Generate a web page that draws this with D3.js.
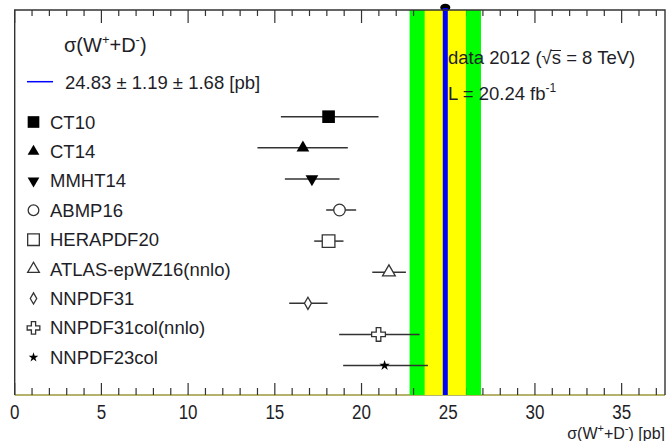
<!DOCTYPE html>
<html>
<head>
<meta charset="utf-8">
<script src="https://cdn.jsdelivr.net/npm/d3@7"></script>
<style>
  html, body { margin: 0; padding: 0; background: #fff; }
  svg { display: block; font-family: "Liberation Sans", Arial, Helvetica, sans-serif; }
</style>
</head>
<body>
<svg id="chart" width="668" height="441"></svg>
<script>
// PDF predictions for sigma(W+ + D-) compared with the measurement
const pdfNames = ["CT10", "CT14", "MMHT14", "ABMP16", "HERAPDF20",
                  "ATLAS-epWZ16(nnlo)", "NNPDF31", "NNPDF31col(nnlo)", "NNPDF23col"];
const pdfValues = [18.1, 16.62, 17.14, 18.73, 18.1, 21.58, 16.91, 20.98, 21.33];
const pdfErrLow = [2.75, 2.62, 1.56, 0.77, 0.83, 0.96, 1.08, 2.27, 2.39];
const pdfErrHigh = [2.88, 2.59, 1.59, 0.96, 0.86, 0.98, 1.13, 2.37, 2.5];
const pdfMarkers = ["squareFilled", "triangleUp", "triangleDown", "circleOpen", "squareOpen",
                    "triangleOpen", "diamondOpen", "crossOpen", "star"];

// measured value with statistical and systematic uncertainty
const measValue = 24.83;
const measStat = 1.19;
const measSyst = 1.68;
const measTotal = Math.sqrt(measStat * measStat + measSyst * measSyst);

const xTicksMajor = [0, 5, 10, 15, 20, 25, 30, 35];
const xTicksMinor = d3.range(0, 38, 1);
const xDomain = [0, 37.5];

const svg = d3.select("#chart");
const frame = { left: 14.7, right: 665, top: 10, bottom: 395 };

const x = d3.scaleLinear().domain(xDomain).range([frame.left, frame.right]);
const y = d3.scaleLinear().domain([0, pdfNames.length - 1]).range([116.7, 365.5]);
const yLeg = d3.scaleLinear().domain([0, pdfNames.length - 1]).range([122, 357.3]);

const ink = "#1e1e28";
const lineInk = "#333";

// bottom axis baseline (bands sit on top of it)
svg.append("line")
  .attr("x1", frame.left).attr("x2", frame.right)
  .attr("y1", frame.bottom).attr("y2", frame.bottom)
  .attr("stroke", "#9c9a3a").attr("stroke-width", 1.6);

// total uncertainty band
svg.append("rect")
  .attr("x", x(measValue - measTotal)).attr("y", frame.top)
  .attr("width", x(measValue + measTotal) - x(measValue - measTotal))
  .attr("height", frame.bottom - frame.top)
  .attr("fill", "#00ff00");

// tick marks on bottom and top
const ticks = svg.append("g").attr("stroke", lineInk).attr("stroke-width", 1.2);
xTicksMinor.forEach(v => {
  const major = v % 5 === 0;
  ticks.append("line").attr("x1", x(v)).attr("x2", x(v))
    .attr("y1", frame.bottom).attr("y2", frame.bottom - (major ? 12 : 7));
  ticks.append("line").attr("x1", x(v)).attr("x2", x(v))
    .attr("y1", frame.top).attr("y2", frame.top + (major ? 13 : 6));
});

// statistical band and central value
svg.append("rect")
  .attr("x", x(measValue - measStat)).attr("y", frame.top)
  .attr("width", x(measValue + measStat) - x(measValue - measStat))
  .attr("height", frame.bottom - frame.top)
  .attr("fill", "#ffff00");

svg.append("ellipse")
  .attr("cx", x(measValue)).attr("cy", 7.5)
  .attr("rx", 5).attr("ry", 3.8)
  .attr("fill", "#000");

svg.append("line")
  .attr("x1", x(measValue)).attr("x2", x(measValue))
  .attr("y1", 8).attr("y2", frame.bottom)
  .attr("stroke", "#0000ff").attr("stroke-width", 5);

// frame: left, top, right
svg.append("path")
  .attr("d", `M${frame.left},${frame.bottom} V${frame.top} H${frame.right} V${frame.bottom}`)
  .attr("fill", "none").attr("stroke", lineInk).attr("stroke-width", 1.4);

// marker shapes
function markerPath(kind, scale) {
  const s = scale || 1;
  switch (kind) {
    case "squareFilled":
    case "squareOpen": return d3.symbol(d3.symbolSquare, 160 * s)();
    case "triangleUp":
    case "triangleDown":
    case "triangleOpen": return d3.symbol(d3.symbolTriangle, 70 * s)();
    case "circleOpen": return d3.symbol(d3.symbolCircle, 105 * s)();
    case "diamondOpen": return d3.symbol(d3.symbolDiamond, 42 * s)();
    case "crossOpen": return d3.symbol(d3.symbolCross, 105 * s)();
    case "star": return d3.symbol(d3.symbolStar, 34 * s)();
  }
}
function drawMarker(g, kind, cx, cy, scale) {
  const open = /Open/.test(kind);
  const rot = kind === "triangleDown" ? 180 : 0;
  g.append("path")
    .attr("d", markerPath(kind, scale))
    .attr("transform", `translate(${cx},${cy}) rotate(${rot})`)
    .attr("fill", open ? "#fff" : "#000")
    .attr("stroke", open ? lineInk : "none")
    .attr("stroke-width", open ? 1.3 : 0);
}

// predictions with error bars
const pts = svg.append("g");
pdfNames.forEach((name, i) => {
  pts.append("line")
    .attr("x1", x(pdfValues[i] - pdfErrLow[i])).attr("x2", x(pdfValues[i] + pdfErrHigh[i]))
    .attr("y1", y(i)).attr("y2", y(i))
    .attr("stroke", lineInk).attr("stroke-width", 1.5);
  drawMarker(pts, pdfMarkers[i], x(pdfValues[i]), y(i), 1);
});

// legend
const leg = svg.append("g").attr("fill", ink).attr("font-size", 18.5);
leg.append("text").attr("x", 64).attr("y", 52).attr("font-size", 20)
  .call(t => {
    t.append("tspan").text("σ(W");
    t.append("tspan").attr("dy", -8).attr("font-size", 13).text("+");
    t.append("tspan").attr("dy", 8).text("+D");
    t.append("tspan").attr("dy", -8).attr("font-size", 13).text("-");
    t.append("tspan").attr("dy", 8).text(")");
  });
leg.append("line").attr("x1", 27).attr("x2", 53).attr("y1", 81.7).attr("y2", 81.7)
  .attr("stroke", "#0000ff").attr("stroke-width", 1.5);
leg.append("text").attr("x", 65).attr("y", 88.5)
  .text(`${measValue.toFixed(2)} ± ${measStat.toFixed(2)} ± ${measSyst.toFixed(2)} [pb]`);

pdfNames.forEach((name, i) => {
  drawMarker(leg, pdfMarkers[i], 33.5, yLeg(i), 0.85);
  leg.append("text").attr("x", 50).attr("y", yLeg(i) + 6.5).text(name);
});

// dataset annotation
const ann = svg.append("g").attr("fill", ink).attr("font-size", 18.5);
const dataText = ann.append("text").attr("x", 448).attr("y", 64);
dataText.append("tspan").text("data 2012 (√s = 8 TeV)");
// overline of the root sign over "s"
(function () {
  const node = dataText.node();
  const rootEnd = node.getEndPositionOfChar(11);
  const sEnd = node.getEndPositionOfChar(12);
  ann.append("line").attr("x1", rootEnd.x - 1).attr("x2", sEnd.x)
    .attr("y1", rootEnd.y - 13.5).attr("y2", rootEnd.y - 13.5)
    .attr("stroke", ink).attr("stroke-width", 1);
})();
ann.append("text").attr("x", 448).attr("y", 100)
  .call(t => {
    t.append("tspan").text("L = 20.24 fb");
    t.append("tspan").attr("dy", -8).attr("font-size", 12).text("-1");
  });

// tick labels
const lab = svg.append("g").attr("fill", ink).attr("font-size", 17).attr("text-anchor", "middle");
xTicksMajor.forEach(v => {
  lab.append("text")
    .attr("transform", `translate(${x(v)},419) scale(1,1.15)`)
    .text(v);
});

// axis title
svg.append("text").attr("x", 665).attr("y", 439).attr("text-anchor", "end")
  .attr("fill", ink).attr("font-size", 16)
  .call(t => {
    t.append("tspan").text("σ(W");
    t.append("tspan").attr("dy", -7).attr("font-size", 11).text("+");
    t.append("tspan").attr("dy", 7).text("+D");
    t.append("tspan").attr("dy", -7).attr("font-size", 11).text("-");
    t.append("tspan").attr("dy", 7).text(") [pb]");
  });
</script>
</body>
</html>
